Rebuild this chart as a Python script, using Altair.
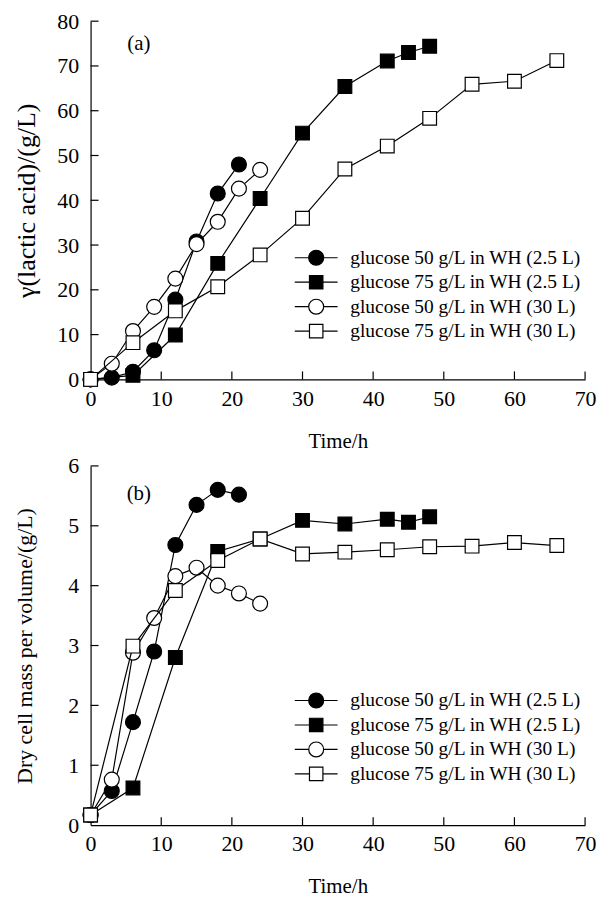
import altair as alt
import pandas as pd

FONT = "Liberation Serif"

series = [
    "glucose 50 g/L in WH (2.5 L)",
    "glucose 75 g/L in WH (2.5 L)",
    "glucose 50 g/L in WH (30 L)",
    "glucose 75 g/L in WH (30 L)",
]
shapes = ["circle", "square", "circle", "square"]
fills = ["black", "black", "white", "white"]
strokes = ["black", "black", "black", "black"]
sizes = [225, 190, 225, 190]

# time points (h)
t_50_25 = [0, 3, 6, 9, 12, 15, 18, 21]
t_75_25 = [0, 6, 12, 18, 24, 30, 36, 42, 45, 48]
t_50_30 = [0, 3, 6, 9, 12, 15, 18, 21, 24]
t_75_30 = [0, 6, 12, 18, 24, 30, 36, 42, 48, 54, 60, 66]

# (a) lactic acid (g/L)
la_50_25 = [0, 0.4, 1.7, 6.5, 17.8, 30.8, 41.5, 48.0]
la_75_25 = [0, 0.9, 9.9, 25.9, 40.4, 55.0, 65.4, 71.1, 73.0, 74.4]
la_50_30 = [0, 3.5, 10.8, 16.2, 22.5, 30.2, 35.2, 42.6, 46.8]
la_75_30 = [0, 8.2, 15.3, 20.7, 27.8, 36.0, 47.0, 52.1, 58.3, 65.9, 66.6, 71.2]

# (b) dry cell mass (g/L)
dcm_50_25 = [0.17, 0.57, 1.72, 2.9, 4.68, 5.35, 5.6, 5.52]
dcm_75_25 = [0.17, 0.62, 2.8, 4.57, 4.78, 5.09, 5.03, 5.11, 5.06, 5.15]
dcm_50_30 = [0.17, 0.76, 2.88, 3.46, 4.16, 4.3, 4.0, 3.87, 3.7]
dcm_75_30 = [0.17, 2.99, 3.92, 4.42, 4.78, 4.53, 4.56, 4.6, 4.65, 4.66, 4.72, 4.67]

x_ticks = [0, 10, 20, 30, 40, 50, 60, 70]
ya_ticks = [0, 10, 20, 30, 40, 50, 60, 70, 80]
yb_ticks = [0, 1, 2, 3, 4, 5, 6]

times = [t_50_25, t_75_25, t_50_30, t_75_30]

CIRC = "M-2.87,0L-1,0M1,0L2.87,0M-1,0A1,1,0,1,1,1,0A1,1,0,1,1,-1,0Z"
SQR = "M-2.87,0L-0.9,0M0.9,0L2.87,0M-0.9,-0.9L0.9,-0.9L0.9,0.9L-0.9,0.9Z"
legend_shapes = [CIRC, SQR, CIRC, SQR]

W = 497


def legend(legend_y):
    return alt.Legend(title=None, orient="none", legendX=217, legendY=legend_y,
                      symbolSize=225, symbolOpacity=1,
                      symbolStrokeColor="black", symbolStrokeWidth=1.2,
                      labelFont=FONT, labelFontSize=19.5, labelColor="black",
                      labelOffset=24.5, rowPadding=3.6, labelLimit=400)


def panel(vals, ydom, yticks, ytitle, title_x, title_size, tag, tag_y, H, legend_y):
    rows = []
    for s, ts, vs in zip(series, times, vals):
        for t, v in zip(ts, vs):
            rows.append({"series": s, "t": t, "v": v})
    df = pd.DataFrame(rows)

    xs = alt.Scale(domain=[0, 70], nice=False, zero=False)
    ys = alt.Scale(domain=ydom, nice=False, zero=False)
    xax = alt.Axis(values=x_ticks, title="Time/h", titleY=62, titleBaseline="middle",
                   labelPadding=9)
    yax = alt.Axis(values=yticks, title=ytitle, titleX=title_x, titleBaseline="middle",
                   titleFontSize=title_size, labelPadding=12)
    X = alt.X("t:Q", scale=xs, axis=xax)
    Y = alt.Y("v:Q", scale=ys, axis=yax)

    layers = []
    base = alt.Chart(df)
    for s, shp, f, sz in zip(series, shapes, fills, sizes):
        sub = base.transform_filter(alt.datum.series == s)
        layers.append(sub.mark_line(color="black", strokeWidth=1.2).encode(x=X, y=Y))
        layers.append(sub.mark_point(shape=shp, filled=True, fill=f, stroke="black",
                                     strokeWidth=1.2, size=sz, opacity=1).encode(x=X, y=Y))

    # legend layer: no marks drawn (empty data), the legend shows the scale domain
    empty = pd.DataFrame({"series": pd.Series([], dtype=str),
                          "t": pd.Series([], dtype=float),
                          "v": pd.Series([], dtype=float)})
    layers.append(alt.Chart(empty).mark_point(filled=True, size=225,
                                              strokeWidth=1.2, opacity=1).encode(
        x=X, y=Y,
        shape=alt.Shape("series:N", scale=alt.Scale(domain=series, range=legend_shapes),
                        legend=legend(legend_y)),
        fill=alt.Fill("series:N", scale=alt.Scale(domain=series, range=fills),
                      legend=legend(legend_y)),
        stroke=alt.Stroke("series:N", scale=alt.Scale(domain=series, range=strokes),
                          legend=legend(legend_y)),
    ))

    # inward ticks
    xt = pd.DataFrame({"t": x_ticks[1:]})
    yt = pd.DataFrame({"v": yticks[1:]})
    layers.append(alt.Chart(xt).mark_rule(color="black", strokeWidth=1.2).encode(
        x=X, y=alt.value(H), y2=alt.value(H - 8)))
    layers.append(alt.Chart(yt).mark_rule(color="black", strokeWidth=1.2).encode(
        y=Y, x=alt.value(0), x2=alt.value(8)))

    # panel tag
    layers.append(alt.Chart(pd.DataFrame({"tag": [tag]})).mark_text(
        font=FONT, fontSize=21, color="black", align="center", baseline="middle").encode(
        text="tag:N", x=alt.value(48.5), y=alt.value(tag_y)))

    return alt.layer(*layers).properties(width=W, height=H)


top = panel([la_50_25, la_75_25, la_50_30, la_75_30], [0, 80], ya_ticks,
            "γ(lactic acid)/(g/L)", -64.5, 26, "(a)", 23, 360, 228)
bottom = panel([dcm_50_25, dcm_75_25, dcm_50_30, dcm_75_30], [0, 6], yb_ticks,
               "Dry cell mass per volume/(g/L)", -66.5, 22, "(b)", 28, 361, 226)

chart = alt.vconcat(top, bottom, spacing=4).resolve_scale(
    shape="independent", fill="independent", stroke="independent"
).resolve_legend(shape="independent", fill="independent", stroke="independent").properties(
    padding={"left": 5, "top": 0, "right": 5, "bottom": 0}
).configure_view(stroke=None).configure_axis(
    labelFont=FONT, labelFontSize=22, labelColor="black",
    titleFont=FONT, titleFontSize=21, titleFontWeight="normal", titleColor="black",
    domainColor="black", domainWidth=1.2, ticks=False, grid=False,
    labelFlush=False, labelOverlap=False,
)

chart.save("out.html", embed_options={"renderer": "svg", "actions": False})
